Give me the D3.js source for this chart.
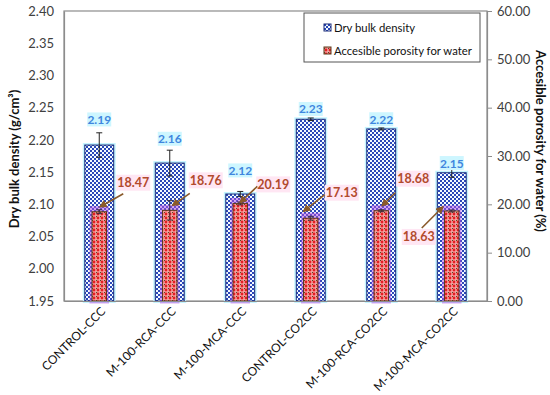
<!DOCTYPE html>
<html>
<head>
<meta charset="utf-8">
<script src="https://cdn.jsdelivr.net/npm/d3@7"></script>
<style>
  body { margin: 0; background: #fff; }
  svg { display: block; font-family: Lato, "Noto Sans", sans-serif; }
</style>
</head>
<body>
<svg id="canvas"></svg>
<script>
// data
const categories = ['CONTROL-CCC', 'M-100-RCA-CCC', 'M-100-MCA-CCC', 'CONTROL-CO2CC', 'M-100-RCA-CO2CC', 'M-100-MCA-CO2CC'];
const density = [2.192, 2.164, 2.116, 2.232, 2.217, 2.149];
const densityErr = [0.019, 0.02, 0.004, 0.002, 0.0015, 0.007];
const densityLabels = ['2.19', '2.16', '2.12', '2.23', '2.22', '2.15'];
const porosity = [18.47, 18.76, 20.19, 17.13, 18.68, 18.63];
const porosityErr = [0.4, 2.0, 0.3, 0.4, 0.2, 0.2];
const porosityLabels = ['18.47', '18.76', '20.19', '17.13', '18.68', '18.63'];
const leftTicks = [1.95, 2.0, 2.05, 2.1, 2.15, 2.2, 2.25, 2.3, 2.35, 2.4];
const rightTicks = [0, 10, 20, 30, 40, 50, 60];

// label placement (layout only)
const blueLabelDy = [-25.6, -24.3, -23.6, -10.3, -9.7, -9.7];
const redLabelPos = [[34, -29], [36, -30], [33, -19], [31, -25.5], [32, -32], [-33, 26]];
const redArrowStart = [[-10, 11], [-16, 13], [-16, 2], [-17, 2], [-18, 14], [3, -9]];
const redArrowEnd = [[1, -5], [3, -5], [0, -1], [-7, -7], [1, -5], [-9, -4]];

const w = 550;
const h = 395;
const padL = 64, padR = 487, padT = 11, padB = 301;

const svg = d3.select('#canvas').attr('width', w).attr('height', h);
const defs = svg.append('defs');

// blue checker pattern
const pb = defs.append('pattern').attr('id', 'checker').attr('patternUnits', 'userSpaceOnUse')
  .attr('width', 4).attr('height', 4);
pb.append('rect').attr('width', 4).attr('height', 4).attr('fill', '#f4fbff');
pb.append('rect').attr('width', 2).attr('height', 2).attr('fill', '#2a48b8');
pb.append('rect').attr('x', 2).attr('y', 2).attr('width', 2).attr('height', 2).attr('fill', '#2a48b8');

// red dotted pattern
const pr = defs.append('pattern').attr('id', 'dots').attr('patternUnits', 'userSpaceOnUse')
  .attr('width', 4).attr('height', 4);
pr.append('rect').attr('width', 4).attr('height', 4).attr('fill', '#f4a0a0');
pr.append('circle').attr('cx', 2).attr('cy', 2).attr('r', 1.4).attr('fill', '#e41f22');
pr.append('rect').attr('x', 0).attr('y', 0).attr('width', 1).attr('height', 1).attr('fill', '#5a4a22');

defs.append('marker').attr('id', 'arrow').attr('viewBox', '0 0 10 10')
  .attr('refX', 8).attr('refY', 5).attr('markerWidth', 5).attr('markerHeight', 5)
  .attr('orient', 'auto')
  .append('path').attr('d', 'M0,0 L10,5 L0,10 z').attr('fill', '#8a5a2a');

const x = d3.scaleBand().domain(categories).range([padL, padR]).paddingInner(0.59).paddingOuter(0.295);
const yL = d3.scaleLinear().domain([1.95, 2.4]).range([padB, padT]);
const yR = d3.scaleLinear().domain([0, 60]).range([padB, padT]);
const bw = x.bandwidth();
const rw = bw * 0.5;
const cx = (d) => x(d) + bw / 2;

// frame
svg.append('rect').attr('x', padL).attr('y', padT).attr('width', padR - padL).attr('height', padB - padT)
  .attr('fill', 'none').attr('stroke', '#8c8c8c').attr('stroke-width', 1.2);

// blue bars
const rows = categories.map((c, i) => ({ c, i }));
svg.selectAll('rect.glow').data(rows).enter().append('rect')
  .attr('x', (d) => x(d.c)).attr('y', (d) => yL(density[d.i]))
  .attr('width', bw).attr('height', (d) => padB - yL(density[d.i]))
  .attr('fill', 'none').attr('stroke', '#c4f4ff').attr('stroke-width', 4);
svg.selectAll('rect.cell').data(rows).enter().append('rect')
  .attr('class', 'cell')
  .attr('x', (d) => x(d.c)).attr('y', (d) => yL(density[d.i]))
  .attr('width', bw).attr('height', (d) => padB - yL(density[d.i]))
  .attr('fill', 'url(#checker)').attr('stroke', '#1c2c7a').attr('stroke-width', 1);

// density error bars
rows.forEach((d) => {
  const x0 = cx(d.c);
  const y1 = yL(density[d.i] + densityErr[d.i]);
  const y2 = yL(density[d.i] - densityErr[d.i]);
  const g = svg.append('g').attr('stroke', '#222').attr('stroke-width', 1);
  g.append('line').attr('x1', x0).attr('x2', x0).attr('y1', y1).attr('y2', y2);
  g.append('line').attr('x1', x0 - 3).attr('x2', x0 + 3).attr('y1', y1).attr('y2', y1);
  g.append('line').attr('x1', x0 - 3).attr('x2', x0 + 3).attr('y1', y2).attr('y2', y2);
});

// red bars
svg.selectAll('rect.rglow').data(rows).enter().append('rect')
  .attr('x', (d) => cx(d.c) - rw / 2).attr('y', (d) => yR(porosity[d.i]) - 3)
  .attr('width', rw).attr('height', (d) => padB - yR(porosity[d.i]) + 3)
  .attr('fill', 'none').attr('stroke', 'rgba(180,80,230,0.5)').attr('stroke-width', 5);
svg.selectAll('rect.red').data(rows).enter().append('rect')
  .attr('x', (d) => cx(d.c) - rw / 2).attr('y', (d) => yR(porosity[d.i]))
  .attr('width', rw).attr('height', (d) => padB - yR(porosity[d.i]))
  .attr('fill', 'url(#dots)').attr('stroke', '#5a3a1a').attr('stroke-width', 1);

rows.forEach((d) => {
  const x0 = cx(d.c);
  const y1 = yR(porosity[d.i] + porosityErr[d.i]);
  const y2 = yR(porosity[d.i] - porosityErr[d.i]);
  const g = svg.append('g').attr('stroke', '#3a2a3a').attr('stroke-width', 1);
  g.append('line').attr('x1', x0).attr('x2', x0).attr('y1', y1).attr('y2', y2);
  g.append('line').attr('x1', x0 - 3).attr('x2', x0 + 3).attr('y1', y1).attr('y2', y1);
  g.append('line').attr('x1', x0 - 3).attr('x2', x0 + 3).attr('y1', y2).attr('y2', y2);
});

// blue value labels
rows.forEach((d) => {
  const lx = cx(d.c);
  const ly = yL(density[d.i]) + blueLabelDy[d.i];
  svg.append('rect').attr('x', lx - 12).attr('y', ly - 7).attr('width', 24).attr('height', 14).attr('fill', '#cdf6ff');
  svg.append('text').attr('x', lx).attr('y', ly + 4.5).attr('text-anchor', 'middle')
    .attr('font-size', 12).attr('font-weight', 'bold').attr('fill', '#3f86de').text(densityLabels[d.i]);
});

// red value labels with arrows
rows.forEach((d) => {
  const bx = cx(d.c);
  const by = yR(porosity[d.i]);
  const lx = bx + redLabelPos[d.i][0];
  const ly = by + redLabelPos[d.i][1];
  svg.append('rect').attr('x', lx - 17).attr('y', ly - 8).attr('width', 34).attr('height', 16).attr('fill', '#ffe6f3');
  svg.append('text').attr('x', lx).attr('y', ly + 4.5).attr('text-anchor', 'middle')
    .attr('font-size', 12.5).attr('font-weight', 'bold').attr('fill', '#b24a2c').text(porosityLabels[d.i]);
  svg.append('line')
    .attr('x1', lx + redArrowStart[d.i][0]).attr('y1', ly + redArrowStart[d.i][1])
    .attr('x2', bx + redArrowEnd[d.i][0]).attr('y2', by + redArrowEnd[d.i][1])
    .attr('stroke', '#8a5a2a').attr('stroke-width', 1.6).attr('marker-end', 'url(#arrow)');
});

// axes
const axisL = d3.axisLeft(yL).tickValues(leftTicks).tickFormat(d3.format('.2f')).tickSize(0).tickPadding(10);
const axisR = d3.axisRight(yR).tickValues(rightTicks).tickFormat(d3.format('.2f')).tickSize(5).tickPadding(5);
const axisB = d3.axisBottom(x).tickSize(0).tickPadding(0);

const gL = svg.append('g').attr('transform', 'translate(' + padL + ',0)').call(axisL);
const gR = svg.append('g').attr('transform', 'translate(' + padR + ',0)').call(axisR);
const gB = svg.append('g').attr('transform', 'translate(0,' + padB + ')').call(axisB);

[gL, gR, gB].forEach((g) => {
  g.selectAll('.domain').attr('stroke', '#8c8c8c').attr('stroke-width', 1.2);
  g.selectAll('.tick line').attr('stroke', '#8c8c8c');
  g.selectAll('text').attr('font-family', 'Lato, "Noto Sans", sans-serif').attr('font-size', 13).attr('fill', '#404040');
});

gB.selectAll('.tick text')
  .attr('font-size', 12).attr('fill', '#111')
  .attr('text-anchor', 'end')
  .attr('transform', 'translate(4,8) rotate(-45)')
  .attr('dy', '0.35em');

// axis titles
svg.append('text').attr('transform', 'translate(19,159) rotate(-90)').attr('text-anchor', 'middle')
  .attr('font-size', 13).attr('font-weight', 'bold').attr('fill', '#111').text('Dry bulk density (g/cm³)');
svg.append('text').attr('transform', 'translate(536,141) rotate(90)').attr('text-anchor', 'middle')
  .attr('font-size', 13).attr('font-weight', 'bold').attr('fill', '#111').text('Accesible porosity for water (%)');

// legend
const lg = svg.append('g');
lg.append('rect').attr('x', 304).attr('y', 13).attr('width', 176).attr('height', 49)
  .attr('fill', '#fff').attr('stroke', '#555').attr('stroke-width', 1);
lg.append('rect').attr('x', 324).attr('y', 24).attr('width', 7).attr('height', 7)
  .attr('fill', 'url(#checker)').attr('stroke', '#1c2c7a');
lg.append('rect').attr('x', 324).attr('y', 47).attr('width', 7).attr('height', 7)
  .attr('fill', 'url(#dots)').attr('stroke', '#5a3a1a');
lg.append('text').attr('x', 334).attr('y', 32).attr('font-size', 11.3).attr('fill', '#111').text('Dry bulk density');
lg.append('text').attr('x', 334).attr('y', 55).attr('font-size', 11.3).attr('fill', '#111').text('Accesible porosity for water');
</script>
</body>
</html>
